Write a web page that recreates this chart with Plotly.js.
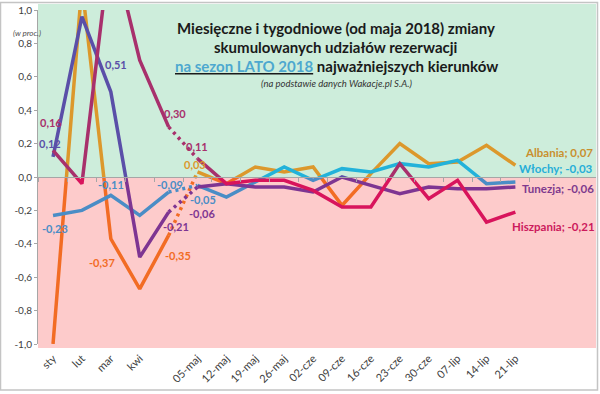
<!DOCTYPE html>
<html><head><meta charset="utf-8">
<script src="https://cdn.plot.ly/plotly-3.0.1.min.js"></script>
<style>html,body{margin:0;padding:0;background:#fff}#chart{width:600px;height:394px}</style>
</head><body><div id="chart"></div>
<script>
// ---------- DATA ----------
const categories = ['sty','lut','mar','kwi','','05-maj','12-maj','19-maj','26-maj','02-cze','09-cze','16-cze','23-cze','30-cze','07-lip','14-lip','21-lip'];
const seriesNames = ['Albania','Włochy','Tunezja','Hiszpania'];
// monthly values: sty, lut, mar, kwi, (maj)
const albaniaMonthly   = [-1.00, 1.15, -0.37, -0.67, -0.35];
const wlochyMonthly    = [-0.23, -0.20, -0.11, -0.23, -0.09];
const tunezjaMonthly   = [0.12, 0.96, 0.51, -0.48, -0.21];
const hiszpaniaMonthly = [0.16, -0.04, 1.41, 0.70, 0.30];
// weekly values: 05-maj ... 21-lip
const albaniaWeekly   = [0.03, -0.04, 0.06, 0.03, 0.06, -0.17, 0.02, 0.20, 0.08, 0.09, 0.19, 0.07];
const wlochyWeekly    = [-0.05, -0.12, -0.03, 0.06, -0.02, 0.05, 0.03, 0.08, 0.06, 0.10, -0.04, -0.03];
const tunezjaWeekly   = [-0.06, -0.04, -0.06, -0.06, -0.09, 0.00, -0.05, -0.10, -0.06, -0.07, -0.07, -0.06];
const hiszpaniaWeekly = [0.11, -0.04, -0.02, -0.02, -0.08, -0.18, -0.18, 0.08, -0.13, -0.02, -0.27, -0.21];
const yTickVals = [1.0, 0.8, 0.6, 0.4, 0.2, 0.0, -0.2, -0.4, -0.6, -0.8, -1.0];
const yTickText = ['1,0','0,8','0,6','0,4','0,2','0,0','-0,2','-0,4','-0,6','-0,8','-1,0'];
const titleLines = ['Miesięczne i tygodniowe (od maja 2018) zmiany','skumulowanych udziałów rezerwacji','na sezon LATO 2018',' najważniejszych kierunków','(na podstawie danych Wakacje.pl S.A.)'];
const unitLabel = '(w proc.)';

// ---------- STYLE ----------
const FONT = 'Lato, "Open Sans", sans-serif';
const styles = [
  {pos:'#DC982C', neg:'#F26C24', end:'#C9902E'},
  {pos:'#22B2DA', neg:'#4A8DC6', end:'#26AED8'},
  {pos:'#5A4FA8', neg:'#7E3592', end:'#7E3A8E'},
  {pos:'#A8306C', neg:'#D8145C', end:'#CC1A5C'}
];
const monthly = [albaniaMonthly, wlochyMonthly, tunezjaMonthly, hiszpaniaMonthly];
const weekly  = [albaniaWeekly, wlochyWeekly, tunezjaWeekly, hiszpaniaWeekly];
const idx = categories.map((c,i)=>i);
const nM = albaniaMonthly.length;
const monthIdx = idx.slice(0, nM);
const weekIdx = idx.slice(nM);

const traces = [];
seriesNames.forEach((name, s) => {
  const segs = [
    {x: monthIdx, y: monthly[s], dash: 'solid'},
    {x: [monthIdx[nM-1], weekIdx[0]], y: [monthly[s][nM-1], weekly[s][0]], dash: '3px,4px'},
    {x: weekIdx, y: weekly[s], dash: 'solid'}
  ];
  segs.forEach(seg => {
    traces.push({x: seg.x, y: seg.y, xaxis:'x2', yaxis:'y', mode:'lines', hoverinfo:'skip', showlegend:false,
      line:{color: styles[s].pos, width:3.5, dash: seg.dash}});
    traces.push({x: seg.x, y: seg.y, xaxis:'x', yaxis:'y2', mode:'lines', hoverinfo:'skip', showlegend:false,
      line:{color: styles[s].neg, width:3.5, dash: seg.dash}});
  });
});

const fmt = v => v.toFixed(2).replace('.', ',');
const valueAt = (s, i) => i < nM ? monthly[s][i] : weekly[s][i - nM];

// [series, category index, xshift, yshift]
const labelSpecs = [
  [3, 0, -2, 28], [2, 0, -3, 13], [1, 0, 2, -13],
  [2, 2, 5, 27], [1, 2, 0, 11], [0, 2, -9, -24],
  [3, 4, 6, 13], [1, 4, 1, 8], [2, 4, 7, -14], [0, 4, 9, -20],
  [3, 5, -1, 12], [0, 5, -3, 7], [1, 5, 5, -14], [2, 5, 4, -26]
];
const annotations = [];
labelSpecs.forEach(([s, i, dx, dy]) => {
  const v = valueAt(s, i);
  const pos = v >= 0;
  annotations.push({x: i, y: v, xref: pos ? 'x2' : 'x', yref: pos ? 'y' : 'y2', text: fmt(v), showarrow:false,
    xanchor:'center', yanchor:'middle',
    xshift: dx, yshift: dy, font:{family:FONT, size:11, color: pos ? styles[s].pos : styles[s].neg, weight:'bold'}});
});
const endShifts = [[8, 13], [2, 14], [5, -1], [-5, -14]];
seriesNames.forEach((name, s) => {
  const last = weekIdx[weekIdx.length-1];
  const v = weekly[s][weekly[s].length-1];
  const pos = v >= 0;
  annotations.push({x: last, y: v, xref: pos ? 'x2' : 'x', yref: pos ? 'y' : 'y2', text: name + '; ' + fmt(v),
    showarrow:false, xanchor:'left', yanchor:'middle', xshift: endShifts[s][0], yshift: endShifts[s][1],
    font:{family:FONT, size:11.5, color: styles[s].end, weight:'bold'}});
});

// pixel -> paper helpers (plot area: l=38, t=10, w=558, h=334)
const L = 38, T = 10, W = 558, H = 334;
const px = p => (p - L) / W;
const py = p => (T + H - p) / H;

const titleX = px(336);
const tA = {xref:'paper', yref:'paper', showarrow:false, xanchor:'center', yanchor:'middle'};
annotations.push(
  Object.assign({x:titleX, y:py(28), text:'<b>'+titleLines[0]+'</b>', font:{family:FONT, size:15, color:'#1A1A1A'}}, tA),
  Object.assign({x:titleX, y:py(47), text:'<b>'+titleLines[1]+'</b>', font:{family:FONT, size:15, color:'#1A1A1A'}}, tA),
  Object.assign({x:titleX, y:py(66), text:'<b><u><span style="color:#4DA8CF">'+titleLines[2]+'</span></u>'+titleLines[3]+'</b>', font:{family:FONT, size:15, color:'#1A1A1A'}}, tA),
  Object.assign({x:titleX, y:py(83), text:'<i>'+titleLines[4]+'</i>', font:{family:FONT, size:9.5, color:'#333333'}}, tA),
  Object.assign({x:px(27), y:py(33), text:'<i>'+unitLabel+'</i>', font:{family:FONT, size:8, color:'#505050'}}, tA)
);

const shapes = [
  {type:'rect', xref:'paper', yref:'paper', x0:px(38), x1:px(596), y0:py(177), y1:py(4), fillcolor:'#CDEDDB', line:{width:0}, layer:'below'},
  {type:'rect', xref:'paper', yref:'paper', x0:px(38), x1:px(596), y0:py(348), y1:py(177), fillcolor:'#FDCBCB', line:{width:0}, layer:'below'},
  {type:'rect', xref:'paper', yref:'paper', x0:px(0.5), x1:px(597.5), y0:py(390), y1:py(2.5), fillcolor:'rgba(0,0,0,0)', line:{width:1.5, color:'#C4C4C4'}, layer:'above'}
];

const xRange = [-0.52, 18.79];
const tickFont = {family:FONT, size:10, color:'#404040'};
const layout = {
  width:600, height:394, margin:{l:L, r:600-L-W, t:T, b:394-T-H},
  paper_bgcolor:'#FFFFFF', plot_bgcolor:'rgba(0,0,0,0)', showlegend:false,
  xaxis:{domain:[0,1], anchor:'y2', range:xRange, tickmode:'array', tickvals:idx, ticktext:categories,
    tickangle:-45, ticks:'', showline:false, showgrid:false, zeroline:false,
    tickfont:{family:FONT, size:11, color:'#404040'}, ticklabelstandoff:5},
  xaxis2:{domain:[0,1], anchor:'y', range:xRange, tickmode:'array', tickvals:idx.map(i=>i-0.5).concat([idx.length-0.5]),
    ticks:'outside', ticklen:4, tickcolor:'#A6A6A6', showticklabels:false, showline:true, linecolor:'#A6A6A6', linewidth:1,
    showgrid:false, zeroline:false},
  yaxis:{domain:[0.5,1], anchor:'x2', range:[0,1], tickmode:'array',
    tickvals:yTickVals.filter(v=>v>0), ticktext:yTickText.filter((t,k)=>yTickVals[k]>0),
    showline:true, linecolor:'#A6A6A6', ticks:'outside', ticklen:3, tickcolor:'#A6A6A6', showgrid:false, zeroline:false, tickfont:tickFont},
  yaxis2:{domain:[0,0.5], anchor:'x', range:[-1,0], tickmode:'array',
    tickvals:yTickVals.filter(v=>v<=0), ticktext:yTickText.filter((t,k)=>yTickVals[k]<=0),
    showline:true, linecolor:'#A6A6A6', ticks:'outside', ticklen:3, tickcolor:'#A6A6A6', showgrid:false, zeroline:false, tickfont:tickFont},
  annotations: annotations,
  shapes: shapes
};
Plotly.newPlot('chart', traces, layout, {displayModeBar:false, staticPlot:true});
</script>
</body></html>
